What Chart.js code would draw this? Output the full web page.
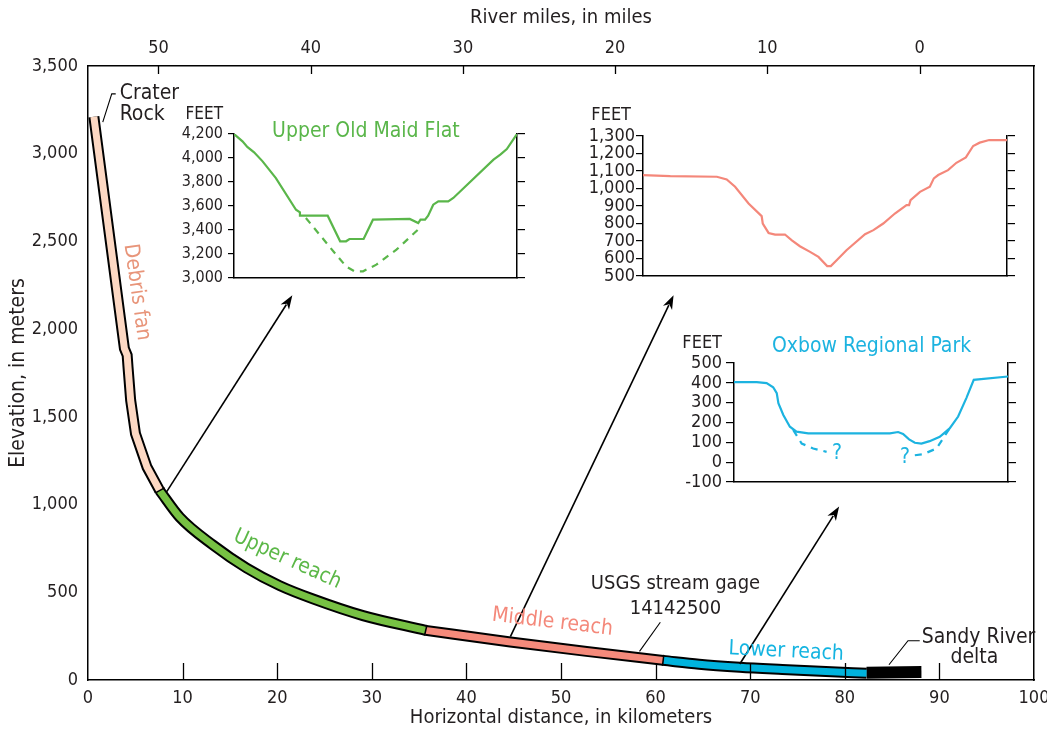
<!DOCTYPE html>
<html>
<head>
<meta charset="utf-8">
<script src="https://cdn.jsdelivr.net/npm/chart.js@4.4.1/dist/chart.umd.min.js"></script>
<style>
  html, body { margin: 0; padding: 0; background: #fff; }
  #wrap { position: relative; width: 1047px; height: 731px; overflow: hidden; }
  #wrap canvas { position: absolute; }
</style>
</head>
<body>
<div id="wrap">
  <canvas id="main" width="1047" height="731" style="left:0;top:0"></canvas>
  <canvas id="insetOldMaid" width="350" height="190" style="left:180px;top:95px"></canvas>
  <canvas id="insetMiddle" width="435" height="190" style="left:585px;top:95px"></canvas>
  <canvas id="insetOxbow" width="345" height="160" style="left:675px;top:330px"></canvas>
</div>
<script>
// Sandy River long profile with three cross sections

const FONT = "'Liberation Sans Narrow', 'DejaVu Sans Condensed', sans-serif";
const INK = '#231f20';

// main profile, horizontal distance (km) and elevation (m)
const fanKm = [0.62, 3.85, 4.14, 4.23, 4.51, 5.02, 6.24, 7.58];
const fanElev = [3211, 1889, 1851, 1784, 1594, 1404, 1213, 1080];
const upperKm = [7.58, 9.7, 13.2, 16.74, 20.26, 23.78, 29.07, 35.7];
const upperElev = [1080, 928, 770, 639, 538, 462, 367, 283];
const middleKm = [35.7, 44.65, 52.7, 60.8];
const middleElev = [283, 217, 163, 112];
const lowerKm = [60.8, 64.6, 68.9, 73.4, 78.0, 82.3];
const lowerElev = [112, 90, 73, 60, 48, 38];
const deltaKm = [82.3, 88.1];
const deltaElev = [42, 45];

const kmTicks = [0, 10, 20, 30, 40, 50, 60, 70, 80, 90, 100];
const elevTicks = [0, 500, 1000, 1500, 2000, 2500, 3000, 3500];
const riverMileTicks = [50, 40, 30, 20, 10, 0];
const mileZeroKm = 87.9;
const kmPerMile = 1.609;

// arrows from the profile to the sections
const arrowFromKm = [8.29, 44.65, 68.9];
const arrowFromElev = [1071, 247, 91];
const arrowToKm = [21.6, 61.9, 79.4];
const arrowToElev = [2193, 2193, 989];

// cross sections (horizontal position 0-100, elevation in feet)
const oldMaidX = [0, 3, 4.7, 7.1, 10.1, 14.8, 21.9, 23.3, 23.3, 33.1, 37.5, 39.6, 40.8, 45.8, 49.1, 62.1, 65.1, 65.9, 67.5, 68.6, 70.4, 72.2, 75.7, 77.5, 91.7, 94.1, 96.4, 100];
const oldMaidFt = [4200, 4139, 4092, 4047, 3972, 3833, 3569, 3547, 3519, 3519, 3306, 3306, 3325, 3325, 3486, 3492, 3458, 3486, 3486, 3519, 3611, 3639, 3639, 3667, 3986, 4028, 4075, 4200];
const oldMaidBuriedX = [25.4, 36.1, 39.6, 42.6, 45.6, 50.3, 57.4, 66.3];
const oldMaidBuriedFt = [3500, 3194, 3097, 3056, 3056, 3111, 3236, 3431];

const middleX = [0, 7.5, 20.3, 23.0, 25.3, 29.0, 32.6, 32.9, 34.5, 36.3, 39.0, 40.9, 43.1, 45.9, 48.2, 50.6, 51.6, 53.2, 55.9, 61.0, 63.3, 66.0, 69.2, 72.4, 73.1, 73.5, 76.1, 78.8, 79.9, 81.1, 83.8, 86.1, 88.7, 90.7, 92.5, 95.1, 100];
const middleFt = [1077, 1071, 1067, 1052, 1010, 914, 842, 800, 746, 737, 737, 704, 670, 638, 609, 557, 557, 590, 647, 739, 762, 800, 857, 905, 905, 933, 981, 1010, 1058, 1077, 1105, 1147, 1178, 1243, 1262, 1277, 1277];

const oxbowX = [0, 8.3, 11.9, 14.3, 15.6, 16.2, 18.0, 20.4, 22.8, 27.1, 56.9, 59.9, 61.7, 63.9, 66.0, 68.4, 71.4, 75.1, 78.7, 81.8, 84.8, 87.5, 100];
const oxbowFt = [404, 404, 399, 378, 348, 297, 238, 179, 154, 145, 145, 152, 142, 115, 98, 94, 106, 128, 170, 230, 323, 415, 432];
const oxbowLeftX = [21.6, 24.7, 28.9, 33.8];
const oxbowLeftFt = [162, 94, 69, 52];
const oxbowRightX = [66.0, 69.0, 73.9, 78.7];
const oxbowRightFt = [35, 40, 69, 170];

function xy(xs, ys) {
  return xs.map((x, i) => ({ x: x, y: ys[i] }));
}

function band(xs, ys, color, mode) {
  const data = xy(xs, ys);
  const common = { data: data, pointRadius: 0, borderCapStyle: 'butt', cubicInterpolationMode: mode, tension: 0 };
  return [
    Object.assign({ borderColor: '#000', borderWidth: 11, order: 2 }, common),
    Object.assign({ borderColor: color, borderWidth: 7, order: 1 }, common)
  ];
}

function drawText(ctx, str, px, py, opts) {
  ctx.save();
  ctx.translate(px, py);
  ctx.rotate((opts.angle || 0) * Math.PI / 180);
  ctx.font = opts.font || ('21px ' + FONT);
  ctx.fillStyle = opts.color || INK;
  ctx.textAlign = opts.align || 'center';
  ctx.textBaseline = 'middle';
  ctx.fillText(str, 0, 0);
  ctx.restore();
}

// drop the label overhang padding so the plot box keeps its place
function noPad(s) {
  s.paddingLeft = 0; s.paddingRight = 0; s.paddingTop = 0; s.paddingBottom = 0;
}

const profileNotes = {
  id: 'profileNotes',
  afterDraw(chart) {
    const ctx = chart.ctx;
    const x = chart.scales.x, y = chart.scales.y, top = chart.scales.xTop;
    const area = chart.chartArea;
    const X = v => x.getPixelForValue(v);
    const Y = v => y.getPixelForValue(v);

    // inward ticks
    ctx.save();
    ctx.strokeStyle = '#000';
    ctx.lineWidth = 1.3;
    kmTicks.forEach(v => {
      if (v === 0 || v === 100) return;
      const px = Math.round(X(v)) + 0.5;
      ctx.beginPath(); ctx.moveTo(px, area.bottom); ctx.lineTo(px, area.bottom - 17); ctx.stroke();
    });
    riverMileTicks.forEach(v => {
      const px = Math.round(top.getPixelForValue(v)) + 0.5;
      ctx.beginPath(); ctx.moveTo(px, area.top); ctx.lineTo(px, area.top + 8); ctx.stroke();
    });

    // arrows
    ctx.lineWidth = 1.6;
    ctx.fillStyle = '#000';
    arrowFromKm.forEach((k, i) => {
      const x1 = X(k), y1 = Y(arrowFromElev[i]);
      const x2 = X(arrowToKm[i]), y2 = Y(arrowToElev[i]);
      const a = Math.atan2(y2 - y1, x2 - x1);
      const len = 14, half = 5;
      const bx = x2 - Math.cos(a) * len, by = y2 - Math.sin(a) * len;
      ctx.beginPath(); ctx.moveTo(x1, y1); ctx.lineTo(bx + Math.cos(a) * 3, by + Math.sin(a) * 3); ctx.stroke();
      ctx.beginPath();
      ctx.moveTo(x2, y2);
      ctx.lineTo(bx - Math.sin(a) * half, by + Math.cos(a) * half);
      ctx.lineTo(bx + Math.cos(a) * 4, by + Math.sin(a) * 4);
      ctx.lineTo(bx + Math.sin(a) * half, by - Math.cos(a) * half);
      ctx.closePath();
      ctx.fill();
    });

    // leader lines
    ctx.lineWidth = 1.1;
    const leaders = [
      [[1.56, 3180], [2.51, 3341], [2.93, 3341]],
      [[58.3, 163], [60.5, 329]],
      [[84.67, 87], [86.68, 224], [87.92, 224]]
    ];
    leaders.forEach(pts => {
      ctx.beginPath();
      pts.forEach((p, i) => i ? ctx.lineTo(X(p[0]), Y(p[1])) : ctx.moveTo(X(p[0]), Y(p[1])));
      ctx.stroke();
    });
    ctx.restore();

    // bottom axis title sits a little below the labels
    drawText(ctx, 'Horizontal distance, in kilometers', (area.left + area.right) / 2, area.bottom + 38, { font: '20px ' + FONT });

    // labels
    drawText(ctx, 'Crater', X(3.35), Y(3343), { align: 'left' });
    drawText(ctx, 'Rock', X(3.35), Y(3223), { align: 'left' });
    drawText(ctx, 'Debris fan', X(5.15), Y(2211), { angle: 82, color: '#e8957a' });
    drawText(ctx, 'Upper reach', X(21.06), Y(687), { angle: 24.5, color: '#5cb848' });
    drawText(ctx, 'Middle reach', X(49.1), Y(329), { angle: 6.7, color: '#f4887a' });
    drawText(ctx, 'Lower reach', X(73.8), Y(162), { angle: 2.75, color: '#14b4e1' });
    drawText(ctx, 'USGS stream gage', X(62.1), Y(550), { font: '20px ' + FONT });
    drawText(ctx, '14142500', X(62.1), Y(407), { font: '20px ' + FONT });
    drawText(ctx, 'Sandy River', X(88.13), Y(242), { align: 'left' });
    drawText(ctx, 'delta', X(93.7), Y(127), {});
  }
};

const axisFont = { family: FONT, size: 18 };

new Chart(document.getElementById('main'), {
  type: 'line',
  data: {
    datasets: [
      ...band(fanKm, fanElev, '#fcd8c3', 'default'),
      ...band(upperKm, upperElev, '#77c143', 'monotone'),
      ...band(middleKm, middleElev, '#f58a7b', 'monotone'),
      ...band(lowerKm, lowerElev, '#00b3dd', 'monotone'),
      { data: xy(deltaKm, deltaElev), borderColor: '#000', borderWidth: 12, pointRadius: 0, borderCapStyle: 'butt', order: 1 },
      {
        // dividers where the reaches meet
        data: xy([fanKm[fanKm.length - 1], upperKm[upperKm.length - 1], middleKm[middleKm.length - 1]],
                 [fanElev[fanElev.length - 1], upperElev[upperElev.length - 1], middleElev[middleElev.length - 1]]),
        showLine: false, pointStyle: 'line', pointRadius: 5.5, pointBorderWidth: 1.5,
        pointBorderColor: '#000', pointRotation: [151, 103, 97], order: 0
      }
    ]
  },
  options: {
    responsive: false,
    animation: false,
    events: [],
    layout: { padding: 0 },
    plugins: { legend: { display: false }, tooltip: { enabled: false } },
    scales: {
      x: {
        type: 'linear', position: 'bottom', min: 0, max: 100,
        afterBuildTicks: s => { s.ticks = kmTicks.map(v => ({ value: v })); },
        ticks: { font: axisFont, color: INK, padding: 8, maxRotation: 0, autoSkip: false },
        grid: { display: false, drawTicks: false },
        border: { color: '#000', width: 1.5 },
        afterFit: s => { s.height = 51; noPad(s); }
      },
      xTop: {
        type: 'linear', position: 'top', reverse: true,
        min: (mileZeroKm - 100) / kmPerMile, max: mileZeroKm / kmPerMile,
        afterBuildTicks: s => { s.ticks = riverMileTicks.map(v => ({ value: v })); },
        ticks: { font: axisFont, color: INK, padding: 7, maxRotation: 0, autoSkip: false },
        grid: { display: false, drawTicks: false },
        border: { color: '#000', width: 1.5 },
        title: { display: true, text: 'River miles, in miles', font: { family: FONT, size: 20 }, color: INK, padding: { top: 6, bottom: 0 } },
        afterFit: s => { s.height = 66; noPad(s); }
      },
      y: {
        type: 'linear', position: 'left', min: 0, max: 3500,
        afterBuildTicks: s => { s.ticks = elevTicks.map(v => ({ value: v })); },
        ticks: { font: axisFont, color: INK, padding: 10, autoSkip: false, callback: v => v.toLocaleString('en-US') },
        grid: { display: false, drawTicks: false },
        border: { color: '#000', width: 1.5 },
        title: { display: true, text: 'Elevation, in meters', font: { family: FONT, size: 21 }, color: INK, padding: { top: 6, bottom: 0 } },
        afterFit: s => { s.width = 88; noPad(s); }
      },
      yRight: {
        type: 'linear', position: 'right', min: 0, max: 3500,
        ticks: { display: false },
        grid: { display: false, drawTicks: false },
        border: { color: '#000', width: 1.5 },
        afterFit: s => { s.width = 13; noPad(s); }
      }
    }
  },
  plugins: [profileNotes]
});

// ---- cross-section insets ----

const insetNotes = {
  id: 'insetNotes',
  afterDraw(chart, args, opts) {
    const ctx = chart.ctx;
    const area = chart.chartArea;
    const x = chart.scales.x, y = chart.scales.y;
    drawText(ctx, 'FEET', area.left - opts.feetGap, area.top - opts.feetRise, { align: 'right', font: opts.labelFont });
    if (opts.title) {
      drawText(ctx, opts.title, x.getPixelForValue(opts.titleAt[0]), y.getPixelForValue(opts.titleAt[1]),
        { color: opts.color, font: '21px ' + FONT });
    }
    (opts.marks || []).forEach(m => {
      drawText(ctx, m.text, x.getPixelForValue(m.x), y.getPixelForValue(m.y), { color: opts.color, font: '21px ' + FONT });
    });
  }
};

function makeInset(id, cfg) {
  const tickGrid = { display: true, drawOnChartArea: false, drawTicks: true, tickLength: cfg.tickLength, color: '#000', lineWidth: 1.2 };
  new Chart(document.getElementById(id), {
    type: 'line',
    data: { datasets: cfg.datasets },
    options: {
      responsive: false,
      animation: false,
      events: [],
      layout: { padding: { top: cfg.padTop, left: 0, right: 0, bottom: 0 } },
      plugins: {
        legend: { display: false }, tooltip: { enabled: false },
        insetNotes: cfg.notes
      },
      scales: {
        x: {
          type: 'linear', min: 0, max: 100,
          ticks: { display: false },
          grid: { display: false, drawTicks: false },
          border: { color: '#000', width: 1.5 },
          afterFit: s => { s.height = cfg.bottomH; noPad(s); }
        },
        y: {
          type: 'linear', position: 'left', min: cfg.min, max: cfg.max,
          ticks: { stepSize: cfg.step, autoSkip: false, font: cfg.tickFont, color: INK, padding: cfg.labelPad, callback: v => v.toLocaleString('en-US') },
          grid: tickGrid,
          border: { color: '#000', width: 1.5 },
          afterFit: s => { s.width = cfg.leftW; noPad(s); }
        },
        yRight: {
          type: 'linear', position: 'right', min: cfg.min, max: cfg.max,
          ticks: { display: false, autoSkip: false, stepSize: cfg.step },
          grid: Object.assign({}, tickGrid, { tickLength: 8 }),
          border: { color: '#000', width: 1.5 },
          afterFit: s => { s.width = cfg.rightW; noPad(s); }
        }
      }
    },
    plugins: [insetNotes]
  });
}

function profileLine(xs, ys, color, dash) {
  return { data: xy(xs, ys), borderColor: color, borderWidth: 2.2, pointRadius: 0, tension: 0, borderDash: dash || [], borderCapStyle: 'butt' };
}

const green = '#5ab64a', salmon = '#f4877a', cyan = '#1cb3e0';

makeInset('insetOldMaid', {
  datasets: [profileLine(oldMaidX, oldMaidFt, green), profileLine(oldMaidBuriedX, oldMaidBuriedFt, green, [7, 6])],
  min: 3000, max: 4200, step: 200, padTop: 39, leftW: 54, rightW: 13, bottomH: 7,
  tickLength: 6, labelPad: 5, tickFont: { family: FONT, size: 16 },
  notes: { feetGap: 11, feetRise: 19, labelFont: '17px ' + FONT, title: 'Upper Old Maid Flat', titleAt: [46.6, 4217], color: green }
});

makeInset('insetMiddle', {
  datasets: [profileLine(middleX, middleFt, salmon)],
  min: 500, max: 1300, step: 100, padTop: 41, leftW: 58, rightW: 13, bottomH: 9,
  tickLength: 7, labelPad: 1, tickFont: { family: FONT, size: 18 },
  notes: { feetGap: 12, feetRise: 21, labelFont: '18px ' + FONT }
});

makeInset('insetOxbow', {
  datasets: [profileLine(oxbowX, oxbowFt, cyan), profileLine(oxbowLeftX, oxbowLeftFt, cyan, [7, 6]), profileLine(oxbowRightX, oxbowRightFt, cyan, [7, 6])],
  min: -100, max: 500, step: 100, padTop: 33, leftW: 59, rightW: 12, bottomH: 8,
  tickLength: 8, labelPad: 4, tickFont: { family: FONT, size: 18 },
  notes: { feetGap: 12, feetRise: 20, labelFont: '18px ' + FONT, title: 'Oxbow Regional Park', titleAt: [50.2, 583], color: cyan,
           marks: [{ text: '?', x: 37.6, y: 45 }, { text: '?', x: 62.4, y: 25 }] }
});
</script>
</body>
</html>
